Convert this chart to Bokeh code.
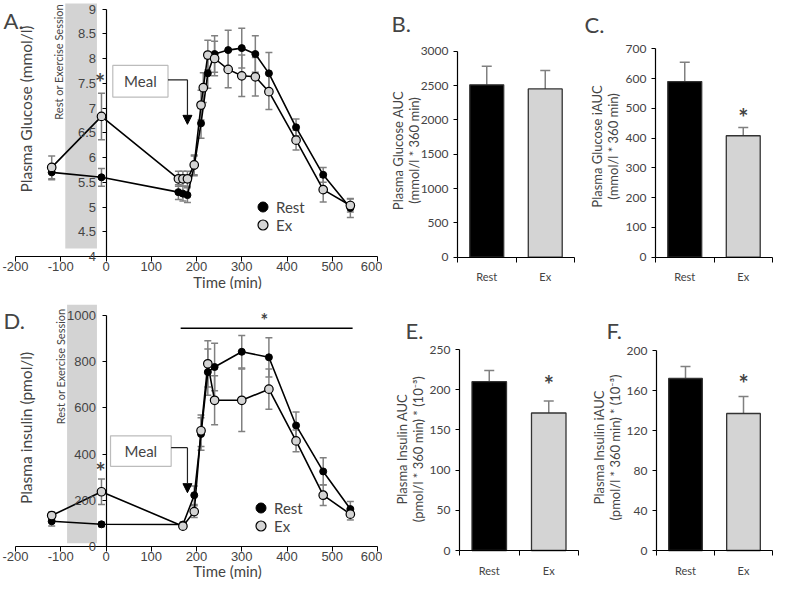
from math import pi
from bokeh.plotting import figure
from bokeh.layouts import column, row
from bokeh.models import (ColumnDataSource, Whisker, TeeHead, Arrow, NormalHead, Label,
                          BoxAnnotation, Legend, LegendItem, FixedTicker,
                          NumeralTickFormatter, Range1d)
from bokeh.embed import file_html
from bokeh.resources import INLINE

CAL = "Lato"
ARI = "Liberation Sans"
ERR_COL = "#808080"
EX_FILL = "#d4d4d4"
BOX_FILL = "#d3d3d3"

# ---------------- data ----------------
# Panel A: plasma glucose (mmol/l)
glu_rest_t = [-120, -10, 160, 170, 180, 195, 210, 225, 240, 270, 300, 330, 360, 420, 480, 540]
glu_rest = [5.70, 5.60, 5.30, 5.27, 5.24, 5.83, 6.69, 7.70, 8.09, 8.17, 8.21, 8.09, 7.70, 6.61, 5.65, 4.98]
glu_rest_err = [0.15, 0.18, 0.15, 0.15, 0.15, 0.20, 0.30, 0.30, 0.37, 0.40, 0.40, 0.37, 0.42, 0.17, 0.15, 0.19]
glu_ex_t = [-120, -10, 160, 170, 180, 195, 210, 215, 225, 240, 270, 300, 330, 360, 420, 480, 540]
glu_ex = [5.80, 6.83, 5.57, 5.57, 5.57, 5.85, 7.06, 7.41, 8.07, 8.00, 7.78, 7.65, 7.63, 7.33, 6.35, 5.35, 5.03]
glu_ex_err = [0.23, 0.47, 0.15, 0.15, 0.15, 0.20, 0.30, 0.30, 0.30, 0.35, 0.37, 0.42, 0.39, 0.36, 0.20, 0.25, 0.13]
glu_yticks = [4, 4.5, 5, 5.5, 6, 6.5, 7, 7.5, 8, 8.5, 9]

# Panel D: plasma insulin (pmol/l)
ins_t = [-120, -10, 170, 195, 210, 225, 240, 300, 360, 420, 480, 540]
ins_rest = [109, 96, 95, 222, 487, 755, 777, 843, 819, 524, 325, 162]
ins_rest_err = [20, 10, 10, 40, 70, 100, 103, 70, 85, 58, 59, 33]
ins_ex = [134, 237, 88, 151, 501, 791, 633, 633, 681, 457, 222, 140]
ins_ex_err = [15, 55, 10, 25, 68, 100, 106, 135, 87, 47, 45, 25]
ins_yticks = [0, 200, 400, 600, 800, 1000]

time_ticks = [-200, -100, 0, 100, 200, 300, 400, 500, 600]

# Bar panels
groups = ["Rest", "Ex"]
glu_auc = [2510, 2450]
glu_auc_err = [270, 270]
glu_iauc = [590, 408]
glu_iauc_err = [65, 28]
ins_auc = [210, 171]
ins_auc_err = [14, 15]
ins_iauc = [172, 137]
ins_iauc_err = [12, 17]


class Geo:
    """Maps data <-> picture pixels for a figure whose frame fills its canvas."""
    def __init__(self, X0, X1, Y0, Y1, xa, ya):
        self.X0, self.X1, self.Y0, self.Y1 = X0, X1, Y0, Y1
        self.xd1, self.xp1 = xa[0], xa[1]
        self.sx = (xa[3] - xa[1]) / (xa[2] - xa[0])
        self.yd1, self.yp1 = ya[0], ya[1]
        self.sy = (ya[3] - ya[1]) / (ya[2] - ya[0])

    def xd(self, px):
        return self.xd1 + (px - self.xp1) / self.sx

    def yd(self, py):
        return self.yd1 + (py - self.yp1) / self.sy

    def px(self, d):
        return self.xp1 + (d - self.xd1) * self.sx

    def py(self, d):
        return self.yp1 + (d - self.yd1) * self.sy

    def fig(self):
        p = figure(width=self.X1 - self.X0, height=self.Y1 - self.Y0,
                   x_range=Range1d(self.xd(self.X0), self.xd(self.X1)),
                   y_range=Range1d(self.yd(self.Y1), self.yd(self.Y0)),
                   output_backend="svg", toolbar_location=None)
        p.min_border = 0
        p.min_border_left = 0
        p.min_border_right = 0
        p.min_border_top = 0
        p.min_border_bottom = 0
        p.grid.visible = False
        p.outline_line_color = None
        p.background_fill_color = "white"
        p.border_fill_color = "white"
        return p


def time_panel(g, yticks, tr, vr, er, te, ve, ee):
    p = g.fig()
    xa = p.xaxis[0]
    xa.fixed_location = yticks[0]
    xa.bounds = (time_ticks[0], time_ticks[-1])
    xa.ticker = FixedTicker(ticks=time_ticks)
    xa.formatter = NumeralTickFormatter(format="0")
    xa.major_label_text_font = ARI
    xa.major_label_text_font_size = "13px"
    xa.major_label_standoff = 0
    xa.major_tick_out = 5
    xa.major_tick_in = 0
    xa.minor_tick_line_color = None
    xa.axis_line_width = 1.2
    ya = p.yaxis[0]
    ya.fixed_location = 0
    ya.bounds = (yticks[0], yticks[-1])
    ya.ticker = FixedTicker(ticks=yticks)
    ya.formatter = NumeralTickFormatter(format="0.[0]")
    ya.major_label_text_font = ARI
    ya.major_label_text_font_size = "13px"
    ya.major_label_standoff = 6
    ya.major_tick_out = 4
    ya.major_tick_in = 0
    ya.minor_tick_line_color = None
    ya.axis_line_width = 1.2

    src_r = ColumnDataSource(dict(t=tr, v=vr, lo=[a - b for a, b in zip(vr, er)],
                                  hi=[a + b for a, b in zip(vr, er)]))
    src_e = ColumnDataSource(dict(t=te, v=ve, lo=[a - b for a, b in zip(ve, ee)],
                                  hi=[a + b for a, b in zip(ve, ee)]))
    for s in (src_r, src_e):
        p.add_layout(Whisker(source=s, base="t", lower="lo", upper="hi",
                             line_color=ERR_COL, line_width=1.5,
                             upper_head=TeeHead(size=7, line_color=ERR_COL, line_width=1.5),
                             lower_head=TeeHead(size=7, line_color=ERR_COL, line_width=1.5)))
    p.line("t", "v", source=src_r, line_color="black", line_width=1.6)
    p.line("t", "v", source=src_e, line_color="black", line_width=1.6)
    rr = p.scatter("t", "v", source=src_r, size=7, fill_color="black", line_color="black")
    re = p.scatter("t", "v", source=src_e, size=8.5, fill_color=EX_FILL,
                   line_color="black", line_width=1.2)
    return p, rr, re


def legend_item(p, g, rend, text, xd, yd, dy=0):
    cx = g.px(xd) - g.X0
    cy = g.Y1 - (g.py(yd) + dy)
    leg = Legend(items=[LegendItem(label=text, renderers=[rend])],
                 location=(round(cx - 12.5), round(cy - 12.5)),
                 glyph_width=25, glyph_height=25, padding=0, margin=0,
                 border_line_color=None, background_fill_alpha=0,
                 label_text_font=CAL, label_text_font_size="15px",
                 label_standoff=1, label_height=25)
    p.add_layout(leg)


def text(p, x, y, t, size, align="center", baseline="middle", angle=0.0,
         font=CAL, style="normal"):
    p.add_layout(Label(x=x, y=y, text=t, text_font=font, text_font_size=size,
                       text_font_style=style, text_align=align,
                       text_baseline=baseline, angle=angle))


def star(p, x, y, size="24px"):
    text(p, x, y, "*", size, style="bold")


def meal(p, l, r, b, t, ya, xa, ytip, yc):
    p.add_layout(BoxAnnotation(left=l, right=r, bottom=b, top=t, fill_color="white",
                               fill_alpha=1, line_color="#222222", line_width=1.2))
    text(p, (l + r) / 2, yc, "Meal", "15px")
    p.add_layout(Arrow(x_start=r, y_start=ya, x_end=xa, y_end=ya, end=None,
                       line_color="#222222", line_width=1.2))
    p.add_layout(Arrow(x_start=xa, y_start=ya, x_end=xa, y_end=ytip,
                       end=NormalHead(size=9, fill_color="black", line_color="black"),
                       line_color="#222222", line_width=1.2))


def session(p, l, r, b, t, xt, yt):
    p.add_layout(BoxAnnotation(left=l, right=r, bottom=b, top=t, fill_color=BOX_FILL,
                               fill_alpha=1, line_color=None, level="underlay"))
    text(p, xt, yt, "Rest or Exercise Session", "11px", align="right", angle=pi / 2)


def bar_panel(g, vals, errs, ymax, yticks, lines, x1, x2, ycen):
    p = g.fig()
    xs = [i + 0.5 for i in range(len(groups))]
    src = ColumnDataSource(dict(x=xs, top=vals, up=[v + e for v, e in zip(vals, errs)],
                                color=["black", EX_FILL]))
    p.add_layout(Whisker(source=src, base="x", lower="top", upper="up",
                         line_color=ERR_COL, line_width=1.5, lower_head=None,
                         upper_head=TeeHead(size=10, line_color=ERR_COL, line_width=1.5)))
    p.vbar(x="x", top="top", width=0.58, fill_color="color", line_color="#333333",
           line_width=1.3, source=src)
    xa = p.xaxis[0]
    xa.fixed_location = 0
    xa.bounds = (0, len(groups))
    xa.ticker = FixedTicker(ticks=xs, minor_ticks=list(range(len(groups) + 1)))
    xa.major_label_overrides = {x: gname for x, gname in zip(xs, groups)}
    xa.major_tick_out = 0
    xa.major_tick_in = 0
    xa.minor_tick_out = 5
    xa.minor_tick_in = 0
    xa.minor_tick_line_color = "black"
    xa.major_label_standoff = 8
    xa.major_label_text_font = CAL
    xa.major_label_text_font_size = "11px"
    xa.axis_line_width = 1.2
    ya = p.yaxis[0]
    ya.fixed_location = 0
    ya.bounds = (0, ymax)
    ya.ticker = FixedTicker(ticks=yticks)
    ya.formatter = NumeralTickFormatter(format="0")
    ya.major_tick_out = 4
    ya.major_tick_in = 0
    ya.minor_tick_line_color = None
    ya.major_label_standoff = 5
    ya.major_label_text_font = CAL
    ya.major_label_text_font_size = "12px"
    ya.axis_line_width = 1.2
    # two-line y-axis title
    text(p, g.xd(x1), ycen, lines[0], "13px", angle=pi / 2)
    text(p, g.xd(x2), ycen, lines[1], "13px", angle=pi / 2)
    return p


# ---------------- panel A ----------------
gA = Geo(0, 382, 0, 289, (-200, 15, 600, 377), (4, 256, 9, 8.5))
pA, rA, eA = time_panel(gA, glu_yticks, glu_rest_t, glu_rest, glu_rest_err,
                        glu_ex_t, glu_ex, glu_ex_err)
session(pA, -90, -20, 4.16, 9.11, -105, 9.1)
text(pA, gA.xd(25), 6.98, "Plasma Glucose (mmol/l)", "15.5px", angle=pi / 2)
text(pA, gA.xd(227), gA.yd(281), "Time (min)", "15px")
meal(pA, 15, 137, 7.22, 7.86, 7.57, 180, 6.67, 7.54)
star(pA, -13, 7.51)
legend_item(pA, gA, rA, "Rest", 348, 5.0)
legend_item(pA, gA, eA, "Ex", 348, 5.0, 18)
text(pA, gA.xd(3), gA.yd(6), "A.", "22px", align="left", baseline="top")

# ---------------- panel D ----------------
gD = Geo(0, 382, 289, 579, (-200, 15, 600, 377), (0, 546, 1000, 315))
pD, rD, eD = time_panel(gD, ins_yticks, ins_t, ins_rest, ins_rest_err,
                        ins_t, ins_ex, ins_ex_err)
session(pD, -86, -20, 14, 1047, -100, 1030)
text(pD, gD.xd(25), 513, "Plasma insulin (pmol/l)", "15.5px", angle=pi / 2)
text(pD, gD.xd(227), gD.yd(570), "Time (min)", "15px")
meal(pD, 10, 144, 347, 479, 428, 180, 233, 413)
star(pD, -12, 326)
pD.add_layout(Arrow(x_start=165, y_start=945, x_end=545, y_end=945, end=None,
                    line_color="black", line_width=1.5))
star(pD, 350, 980, "18px")
legend_item(pD, gD, rD, "Rest", 343, 165)
legend_item(pD, gD, eD, "Ex", 343, 165, 18)
text(pD, gD.xd(3), 1035, "D.", "22px", align="left", baseline="top")

# ---------------- bar panels ----------------
gB = Geo(382, 580, 0, 289, (0, 457, 2, 574), (0, 256.7, 3000, 50.7))
pB = bar_panel(gB, glu_auc, glu_auc_err, 3000, list(range(0, 3001, 500)),
               ["Plasma Glucose AUC", "(mmol/l * 360 min)"], 397, 413, 1554)
text(pB, gB.xd(391), gB.yd(9), "B.", "22px", align="left", baseline="top")

gC = Geo(580, 774, 0, 289, (0, 655, 2, 772), (0, 256.7, 700, 48.3))
pC = bar_panel(gC, glu_iauc, glu_iauc_err, 700, list(range(0, 701, 100)),
               ["Plasma Glucose iAUC", "(mmol/l * 360 min)"], 596, 612, 372)
text(pC, gC.xd(584), gC.yd(10), "C.", "22px", align="left", baseline="top")
star(pC, 1.5, 469)

gE = Geo(382, 580, 289, 579, (0, 459, 2, 578), (0, 550, 250, 349))
pE = bar_panel(gE, ins_auc, ins_auc_err, 250, list(range(0, 251, 50)),
               ["Plasma Insulin AUC", "(pmol/l * 360 min) * (10\u207b\u00b3)"],
               401, 417, 126)
text(pE, gE.xd(405), gE.yd(316), "E.", "22px", align="left", baseline="top")
star(pE, 1.5, 206)

gF = Geo(580, 774, 289, 579, (0, 656, 2, 772), (0, 550, 200, 350))
pF = bar_panel(gF, ins_iauc, ins_iauc_err, 200, list(range(0, 201, 40)),
               ["Plasma Insulin iAUC", "(pmol/l * 360 min) * (10\u207b\u00b3)"],
               598, 614, 103)
text(pF, gF.xd(606), gF.yd(316), "F.", "22px", align="left", baseline="top")
star(pF, 1.5, 167)

layout = column(row(pA, pB, pC), row(pD, pE, pF))
open("out.html", "w").write(file_html(layout, INLINE))
